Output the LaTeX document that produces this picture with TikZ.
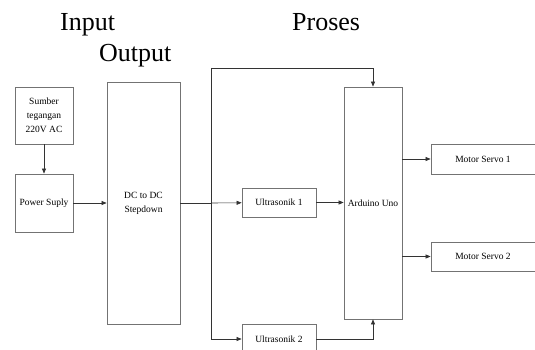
\documentclass[tikz,border=0pt]{standalone}
\usepackage{fontspec}
\setmainfont{Liberation Serif}
\usetikzlibrary{arrows.meta}
\begin{document}
\begin{tikzpicture}[x=1pt,y=-1pt,
  box/.style={draw=black!55, line width=0.8pt, inner sep=0pt, font=\fontsize{9.5}{14}\selectfont, align=center},
  conn/.style={draw=black!80, line width=0.6pt},
  arr/.style={conn, -{Triangle[length=5pt,width=4pt]}},
  title/.style={font=\fontsize{26}{28}\selectfont, anchor=base west, inner sep=0pt}]
\useasboundingbox (0,0) rectangle (535,350);
\clip (0,0) rectangle (535,350);
\fill[white] (0,0) rectangle (535,350);
% titles
\node[title] (tin) at (60,31) {Input};
\node[title] (tout) at (99,62) {Output};
\node[title] (tpro) at (292,31) {Proses};
% boxes
\node[box, minimum width=58pt, minimum height=57pt] (src) at (44,115.5) {Sumber\\tegangan\\220V AC};
\node[box, minimum width=58pt, minimum height=58pt] (ps) at (44,203) {Power Suply};
\node[box, minimum width=73pt, minimum height=242pt] (dc) at (143.5,203) {DC to DC\\Stepdown};
\node[box, minimum width=74pt, minimum height=29pt] (u1) at (279,202.5) {Ultrasonik 1};
\node[box, minimum width=74pt, minimum height=34pt] (u2) at (279,341) {};
\node[font=\fontsize{9.5}{14}\selectfont] (u2t) at (279,339) {Ultrasonik 2};
\node[box, minimum width=58pt, minimum height=232pt] (ard) at (373,203) {Arduino Uno};
\node[box, minimum width=112pt, minimum height=30pt] (m1) at (487,159) {};
\node[font=\fontsize{9.5}{14}\selectfont] (m1t) at (483,159.5) {Motor Servo 1};
\node[box, minimum width=112pt, minimum height=29pt] (m2) at (487,256.5) {};
\node[font=\fontsize{9.5}{14}\selectfont] (m2t) at (483,256.5) {Motor Servo 2};
% junction coordinates
\coordinate (j) at (211,203);
\coordinate (jt) at (211,68);
\coordinate (jb) at (211,339);
\coordinate (at) at (373,68);
\coordinate (ab) at (373,339);
% connectors
\draw[arr] (src) -- (ps);
\draw[arr] (ps) -- (dc);
\draw[conn] (dc.east |- j) -- (j);
\draw[arr] (j) -- (u1);
\draw[conn] (jt) -- (jb);
\draw[arr] (jt) -- (at) -- (ard.north);
\draw[arr] (jb) -- (u2.west |- jb);
\draw[arr] (u1) -- (ard.west |- u1);
\draw[arr] (u2.east |- ab) -- (ab) -- (ard.south);
\draw[arr] (ard.east |- m1) -- (m1.west);
\draw[arr] (ard.east |- m2) -- (m2.west);
\end{tikzpicture}
\end{document}
